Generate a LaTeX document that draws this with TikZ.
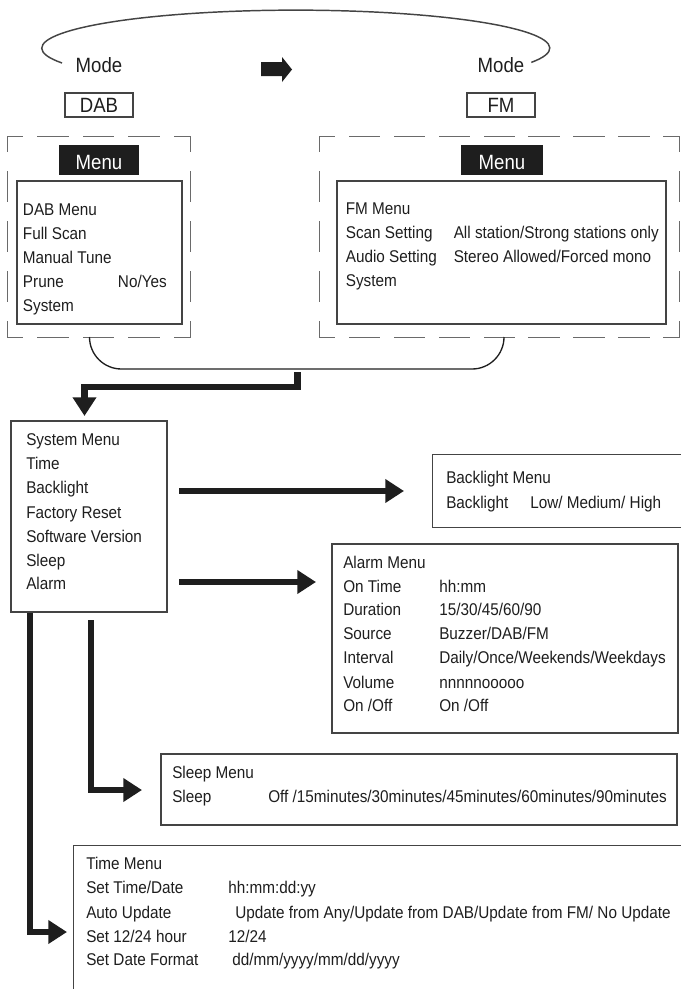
\documentclass[tikz,border=0pt]{standalone}
\usepackage{fontspec}
\setmainfont[FakeStretch=0.9]{Liberation Sans}
\usetikzlibrary{arrows.meta,fit}
\definecolor{ink}{HTML}{1E1E1E}
\definecolor{edge}{HTML}{444444}
\definecolor{dashc}{HTML}{6A6A6A}
\begin{document}
\begin{tikzpicture}[x=0.75pt,y=-0.75pt,
  txt/.style={inner sep=0,text=ink,font=\fontsize{12.75pt}{18pt}\selectfont,anchor=base west},
  ctxt/.style={inner sep=0,text=ink,font=\fontsize{15.5pt}{18pt}\selectfont,anchor=base},
  box/.style={draw=edge,line width=0.9pt,inner sep=0},
  fitbox/.style={inner sep=0},
  menubox/.style={fill=ink,inner sep=0},
  wtxt/.style={ctxt,text=white},
  thickarrow/.style={draw=ink,line width=5pt,line join=miter,-{Triangle[length=14pt,width=17pt]}},
  dashsideh/.style={draw=dashc,line width=1.1pt,line cap=rect,dash pattern=on 22.5pt off 11.6pt,dash phase=11.25pt},
  dashsidev/.style={draw=dashc,line width=1.1pt,line cap=rect,dash pattern=on 22.5pt off 15pt,dash phase=11.25pt},
  dashsidew/.style={draw=dashc,line width=1.1pt,line cap=rect,dash pattern=on 22.5pt off 11.16pt,dash phase=11.25pt},
  thinedge/.style={draw=edge,line width=0.9pt}]
\useasboundingbox (0,0) rectangle (681,989);

% mode loop
\coordinate (loopL) at (62,63);
\draw[draw=edge,line width=1.1pt] (loopL) arc[start angle=157,end angle=382,x radius=254,y radius=38];
\node[ctxt] (modeL) at (99,72) {Mode};
\node[ctxt] (modeR) at (501,72) {Mode};
\fill[ink] (261,62) -- (282,62) -- (282,57) -- (292,69.5) -- (282,82) -- (282,76) -- (261,76) -- cycle;

\node[box,fit={(65,93) (133,117)}] (dab) {};
\node[ctxt] (dabt) at (99,112.5) {DAB};
\node[box,fit={(467,93) (535,117)}] (fm) {};
\node[ctxt] (fmt) at (501,112.5) {FM};

% dashed groups
\node[fitbox,fit={(8,137) (190,337)}] (dl) {};
\node[fitbox,fit={(320,137) (679,337)}] (dr) {};
\draw[dashsideh] (dl.north west) -- (dl.north east);
\draw[dashsideh] (dl.south west) -- (dl.south east);
\draw[dashsidev] (dl.north west) -- (dl.south west);
\draw[dashsidev] (dl.north east) -- (dl.south east);
\draw[dashsidew] (dr.north west) -- (dr.north east);
\draw[dashsidew] (dr.south west) -- (dr.south east);
\draw[dashsidev] (dr.north west) -- (dr.south west);
\draw[dashsidev] (dr.north east) -- (dr.south east);

\node[menubox,fit={(59,145) (139,175)}] (menuL) {};
\node[wtxt] (menuLt) at (99,169.3) {Menu};
\node[menubox,fit={(461,145) (543,175)}] (menuR) {};
\node[wtxt] (menuRt) at (502,169.3) {Menu};

\node[box,fit={(17,181) (182,324)}] (dabmenu) {};
\node[txt] (d1) at (22.7,215) {DAB Menu};
\node[txt] (d2) at (22.7,239) {Full Scan};
\node[txt] (d3) at (22.7,263) {Manual Tune};
\node[txt] (d4) at (22.7,287) {Prune};
\node[txt,anchor=base east] (d4b) at (167,287) {No/Yes};
\node[txt] (d5) at (22.7,311) {System};

\node[box,fit={(337,181) (666,324)}] (fmmenu) {};
\node[txt] (f1) at (345.6,214) {FM Menu};
\node[txt] (f2) at (345.6,238) {Scan Setting};
\node[txt] (f2b) at (453.5,238) {All station/Strong stations only};
\node[txt] (f3) at (345.6,262) {Audio Setting};
\node[txt] (f3b) at (453.5,262) {Stereo Allowed/Forced mono};
\node[txt] (f4) at (345.6,286) {System};

% bracket joining both menus
\coordinate (c1) at (89.5,337);
\coordinate (c2) at (504,337);
\coordinate (bj) at (297.5,369);
\draw[draw=ink,line width=1pt,rounded corners=24pt] (c1) |- (bj) -| (c2);

% system menu
\node[box,fit={(11,421) (167,612)}] (sys) {};
\node[txt] (s1) at (26,445) {System Menu};
\node[txt] (s2) at (26,469) {Time};
\node[txt] (s3) at (26,493) {Backlight};
\node[txt] (s4) at (26,518) {Factory Reset};
\node[txt] (s5) at (26,542) {Software Version};
\node[txt] (s6) at (26,566) {Sleep};
\node[txt] (s7) at (26,589) {Alarm};

\coordinate (a1) at (84.5,416);
\draw[thickarrow] (297.5,372) |- (84.5,387) -- (a1);

% backlight
\node[fitbox,fit={(433,455) (682,527)}] (bl) {};
\draw[thinedge] (bl.north east) -- (bl.north west) -- (bl.south west) -- (bl.south east);
\node[txt] (b1) at (446,483) {Backlight Menu};
\node[txt] (b2) at (446,508) {Backlight};
\node[txt] (b2b) at (530,508) {Low/ Medium/ High};
\coordinate (blin) at (404,491);
\draw[thickarrow] (179,491) -- (blin);

% alarm
\node[box,fit={(332,544) (678,733)}] (al) {};
\node[txt] (al1) at (343,568) {Alarm Menu};
\node[txt] (al2) at (343,592) {On Time};
\node[txt] (al2b) at (439,592) {hh:mm};
\node[txt] (al3) at (343,615) {Duration};
\node[txt] (al3b) at (439,615) {15/30/45/60/90};
\node[txt] (al4) at (343,639) {Source};
\node[txt] (al4b) at (439,639) {Buzzer/DAB/FM};
\node[txt] (al5) at (343,663) {Interval};
\node[txt] (al5b) at (439,663) {Daily/Once/Weekends/Weekdays};
\node[txt] (al6) at (343,688) {Volume};
\node[txt] (al6b) at (439,688) {nnnnnooooo};
\node[txt] (al7) at (343,711) {On /Off};
\node[txt] (al7b) at (439,711) {On /Off};
\coordinate (alin) at (316,582);
\draw[thickarrow] (179,582) -- (alin);

% sleep
\node[box,fit={(161,754) (677,825)}] (sl) {};
\node[txt] (sl1) at (172,778) {Sleep Menu};
\node[txt] (sl2) at (172,802) {Sleep};
\node[txt] (sl2b) at (268,802) {Off /15minutes/30minutes/45minutes/60minutes/90minutes};
\coordinate (slin) at (142,790);
\draw[thickarrow] (91,620) |- (slin);

% time
\node[fitbox,fit={(74,846) (682,992)}] (tm) {};
\draw[thinedge] (tm.north east) -- (tm.north west) -- (tm.south west);
\node[txt] (t1) at (86,869) {Time Menu};
\node[txt] (t2) at (86,893) {Set Time/Date};
\node[txt] (t2b) at (228,893) {hh:mm:dd:yy};
\node[txt] (t3) at (86,918) {Auto Update};
\node[txt] (t3b) at (235,918) {Update from Any/Update from DAB/Update from FM/ No Update};
\node[txt] (t4) at (86,942) {Set 12/24 hour};
\node[txt] (t4b) at (228,942) {12/24};
\node[txt] (t5) at (86,965) {Set Date Format};
\node[txt] (t5b) at (232,965) {dd/mm/yyyy/mm/dd/yyyy};
\coordinate (tmin) at (67,932);
\draw[thickarrow] (sys.south -| 30,0) |- (tmin);
\end{tikzpicture}
\end{document}
